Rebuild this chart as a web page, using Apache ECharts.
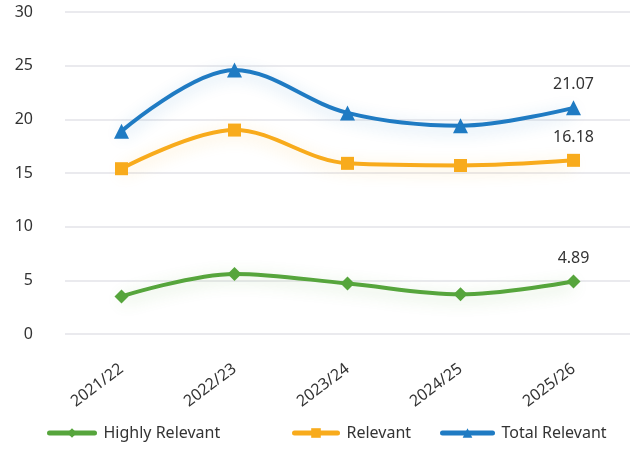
<!DOCTYPE html>
<html><head><meta charset="utf-8">
<script src="https://cdn.jsdelivr.net/npm/echarts@6/dist/echarts.min.js"></script>
<style>html,body{margin:0;padding:0;background:#fff}#c{width:637px;height:450px}</style>
</head><body><div id="c"></div>
<script>
const categories = ['2021/22','2022/23','2023/24','2024/25','2025/26'];
const seriesNames = ['Highly Relevant','Relevant','Total Relevant'];
const highlyRelevant = [3.5, 5.6, 4.7, 3.7, 4.89];
const relevant = [15.4, 19.0, 15.9, 15.7, 16.18];
const totalRelevant = [18.9, 24.6, 20.6, 19.4, 21.07];
const yTicks = [0, 5, 10, 15, 20, 25, 30];

const FONT = 'Noto Sans';
function mk(name, data, color, symbol, size, glow){
  return {
    name, type:'line', data, smooth:0.35, symbol, symbolSize:size,
    lineStyle:{width:4, color, shadowColor:glow, shadowBlur:16, shadowOffsetY:4},
    itemStyle:{color},
    label:{show:true, position:'top', distance:8, fontFamily:FONT, fontSize:16, color:'#333',
      formatter:p => p.dataIndex === data.length-1 ? p.value.toFixed(2) : ''},
    emphasis:{disabled:true}
  };
}
const legendLefts = [42, 287, 435];
const legendWidths = [45, 43, 50];
const chart = echarts.init(document.getElementById('c'));
chart.setOption({
  animation:false,
  grid:{left:65, right:7, top:12, bottom:116},
  legend: seriesNames.map((n,i) => ({
    bottom:4, left:legendLefts[i], itemWidth:legendWidths[i], itemHeight:12,
    lineStyle:{width:5, cap:'round'},
    textStyle:{fontFamily:FONT, fontSize:16, color:'#333', padding:[0,0,0,4]},
    data:[n]})),
  xAxis:{type:'category', data:categories, boundaryGap:true,
    axisLine:{show:false}, axisTick:{show:false},
    axisLabel:{rotate:37, fontFamily:FONT, fontSize:16, color:'#333', margin:33, interval:0}},
  yAxis:{type:'value', min:yTicks[0], max:yTicks[yTicks.length-1], interval:5,
    axisLabel:{fontFamily:FONT, fontSize:16, color:'#333', margin:32},
    splitLine:{lineStyle:{color:'#e3e3e8', width:1.5}}},
  series:[
    mk(seriesNames[0], highlyRelevant, '#56a53c', 'diamond', 14, 'rgba(86,165,60,0.3)'),
    mk(seriesNames[1], relevant, '#f8ab1c', 'rect', 13, 'rgba(248,171,28,0.3)'),
    mk(seriesNames[2], totalRelevant, '#1f7bc3', 'triangle', 15, 'rgba(31,123,195,0.3)')
  ]
});
</script></body></html>
